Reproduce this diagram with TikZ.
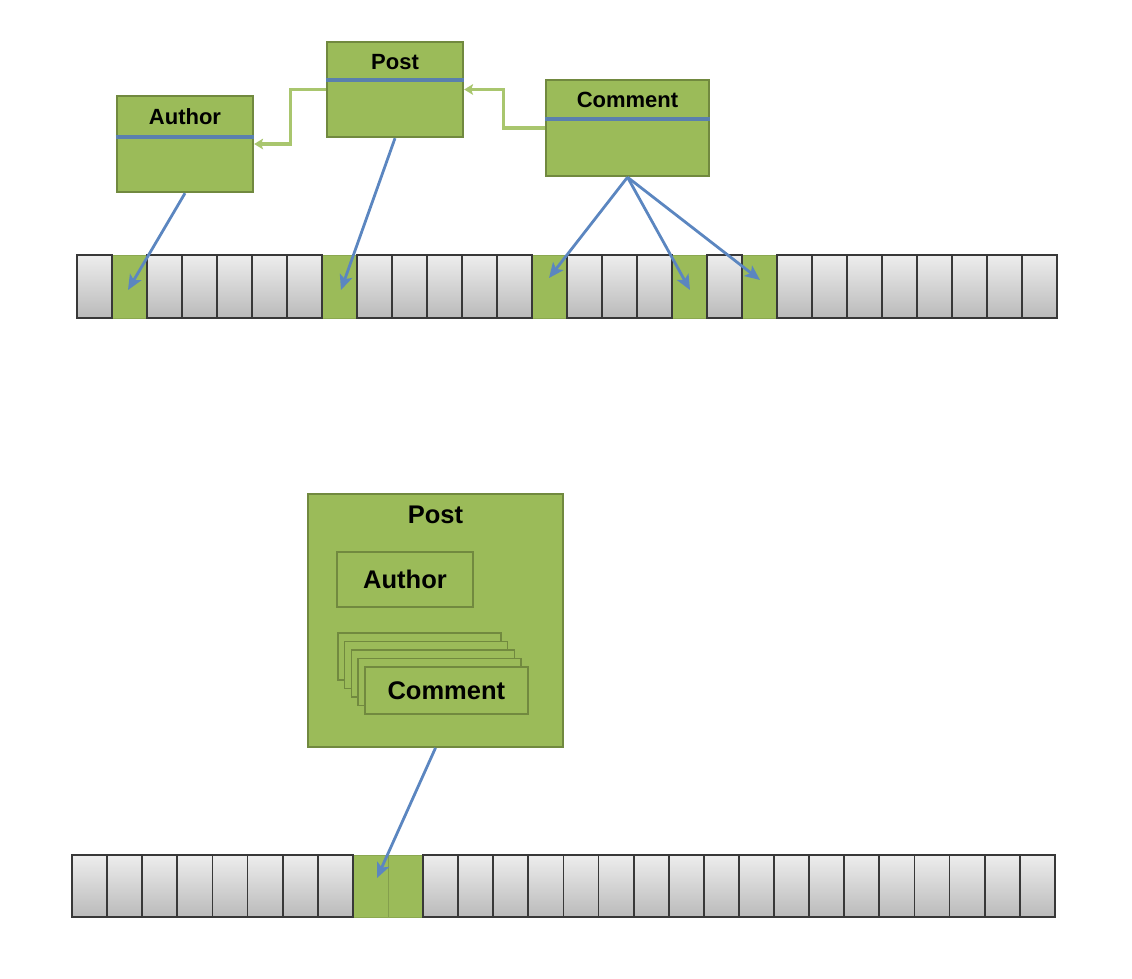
\documentclass[tikz,border=0pt]{standalone}
\usepackage{fontspec}
\setmainfont{Liberation Sans}
\usetikzlibrary{arrows.meta,calc}
\definecolor{olive}{HTML}{9BBB59}
\definecolor{olivedark}{HTML}{71893F}
\definecolor{olivelight}{HTML}{A9C66E}
\definecolor{sepblue}{HTML}{5A80AE}
\definecolor{arrblue}{HTML}{5B86C0}
\tikzset{
  umlbox/.style={draw=olivedark, line width=2.4pt, fill=olive, inner sep=0pt},
  inbox/.style={draw=olivedark, line width=1.6pt, inner sep=0pt},
  stackbox/.style={draw=olivedark, line width=1.6pt, fill=olive, inner sep=0pt, minimum width=163pt, minimum height=47pt, anchor=north west},
  sepline/.style={draw=sepblue, line width=3.5pt},
  ttl/.style={font=\fontsize{22}{26}\selectfont\bfseries, text=black},
  ttlb/.style={font=\fontsize{25.5}{30}\selectfont\bfseries, text=black},
  graycell/.style={draw=black!78, line width=1.8pt, top color=black!7, bottom color=black!27, minimum width=35pt, minimum height=63pt, inner sep=0pt},
  greencell/.style={draw=olive!90!black, line width=0.6pt, fill=olive, minimum width=35pt, minimum height=63pt, inner sep=0pt},
  ptr/.style={draw=arrblue, line width=2.8pt, -{Stealth[length=15pt,width=13pt,inset=3.5pt]}},
  ref/.style={draw=olivelight, line width=3.2pt, -{Stealth[length=9pt,width=11pt,inset=2pt,line width=0pt]}}
}
\begin{document}
\begin{tikzpicture}[x=1pt,y=-1pt]
\useasboundingbox (0,0) rectangle (1132,978);
% ---------- top strip ----------
\foreach \i in {1,7,13,17,19} {
  \node[greencell] (t\i) at ({77+35*\i+17.5},286.5) {};
}
\foreach \i in {0,2,3,4,5,6,8,9,10,11,12,14,15,16,18,20,21,22,23,24,25,26,27} {
  \node[graycell] (t\i) at ({77+35*\i+17.5},286.5) {};
}
% ---------- top boxes ----------
\node[umlbox, minimum width=136pt, minimum height=96pt] (author) at (185,144) {};
\draw[sepline] ($(author.north west)+(0,42)$) -- ($(author.north east)+(0,42)$);
\node[ttl] (authorT) at ($(author.north)+(0,22)$) {Author};

\node[umlbox, minimum width=136pt, minimum height=95pt] (post) at (395,89.5) {};
\draw[sepline] ($(post.north west)+(0,39)$) -- ($(post.north east)+(0,39)$);
\node[ttl] (postT) at ($(post.north)+(0,21)$) {Post};

\node[umlbox, minimum width=163pt, minimum height=96pt] (comment) at (627.5,128) {};
\draw[sepline] ($(comment.north west)+(0,40)$) -- ($(comment.north east)+(0,40)$);
\node[ttl] (commentT) at ($(comment.north)+(0,21)$) {Comment};

% green reference connectors
\draw[ref] (post.west) -- ++(-35,0) |- (author.east);
\draw[ref] (comment.west) -- ++(-41,0) |- (post.east);

% blue pointers
\coordinate (pa) at (128,290);
\coordinate (pp) at (341,290);
\coordinate (pc1) at (549,278);
\coordinate (pc2) at (690,290);
\coordinate (pc3) at (760,280);
\draw[ptr] (author.south) -- (pa);
\draw[ptr] (post.south) -- (pp);
\draw[ptr] (comment.south) -- (pc1);
\draw[ptr] (comment.south) -- (pc2);
\draw[ptr] (comment.south) -- (pc3);

% ---------- bottom strip ----------
\foreach \i in {8,9} {
  \node[greencell, minimum width=35.1pt, minimum height=62pt] (b\i) at ({72+35.1*\i+17.55},886) {};
}
\draw[olive!85!black, line width=1.2pt] (b8.north east) -- (b8.south east);
\foreach \i in {0,1,2,3,4,5,6,7,10,11,12,13,14,15,16,17,18,19,20,21,22,23,24,25,26,27} {
  \node[graycell, minimum width=35.1pt, minimum height=62pt] (b\i) at ({72+35.1*\i+17.55},886) {};
}

% ---------- bottom nested box ----------
\node[umlbox, line width=1.8pt, minimum width=255pt, minimum height=253pt] (post2) at (435.5,620.5) {};
\node[ttlb] (post2T) at ($(post2.north)+(0,22)$) {Post};
\node[inbox, minimum width=136pt, minimum height=55pt] (author2) at (405,579.5) {};
\node[ttlb] (author2T) at (author2.center) {Author};
\foreach \k in {0,1,2,3} {
  \node[stackbox] (cs\k) at ({337+6.75*\k},{632+8.5*\k}) {};
}
\node[stackbox] (comment2) at (364,666) {};
\node[ttlb] (comment2T) at (comment2.center) {Comment};

\coordinate (pb) at (377,878);
\draw[ptr] (post2.south) -- (pb);
\end{tikzpicture}
\end{document}
